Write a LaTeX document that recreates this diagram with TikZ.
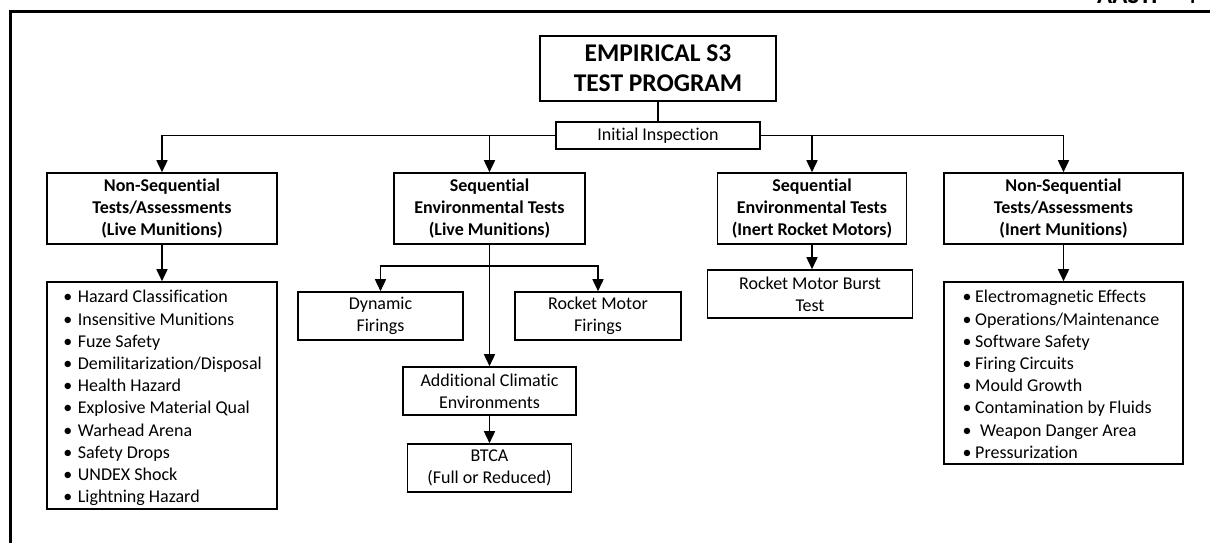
\documentclass[tikz,border=0pt]{standalone}
\usepackage{fontspec}
\setmainfont{Carlito}[Ligatures=NoCommon]
\usetikzlibrary{arrows.meta}
% bullet hung to the left of the item text, #1 = gap before the text
\newcommand\bul[1]{\llap{\textbullet\hspace{#1}}}
\begin{document}
\begin{tikzpicture}[x=1pt,y=-1pt,
  box/.style={draw, line width=1.6pt, fill=white, rectangle, inner sep=0pt,
    align=center, font=\fontsize{18}{21.7}\selectfont},
  head/.style={box, font=\bfseries\fontsize{18}{21.7}\selectfont},
  link/.style={line width=1.6pt},
  arr/.style={link, -{Triangle[length=12pt,width=11pt]}},
  items/.style={anchor=north west, inner sep=0pt, align=left,
    font=\fontsize{18}{22.2}\selectfont}]
\useasboundingbox (0,0) rectangle (1210,542);

% page frame and running header, both cut by the page edge
\begin{scope}
  \clip (0,0) rectangle (1210,542);
  \draw[line width=2.8pt] (10.7,600) -- (10.7,11.2) -- (1260,11.2);
  \node[anchor=base west, inner sep=0pt, font=\bfseries\fontsize{25}{30}\selectfont]
    (runhead) at (1097,3.5) {AASTP - 4};
\end{scope}

% top of the tree
\node[box, minimum width=236, minimum height=65,
  font=\bfseries\fontsize{25.5}{30}\selectfont] (title) at (658,68.5)
  {EMPIRICAL S3\\TEST PROGRAM};
\node[box, minimum width=204, minimum height=27] (ii) at (658,135.5) {Initial Inspection};

% second level
\node[head, minimum width=230, minimum height=71] (h1) at (162,208.5)
  {Non-Sequential\\Tests/Assessments\\(Live Munitions)};
\node[head, minimum width=191, minimum height=71] (h2) at (489.5,208.5)
  {Sequential\\Environmental Tests\\(Live Munitions)};
\node[head, minimum width=189, minimum height=71] (h3) at (812,208.5)
  {Sequential\\Environmental Tests\\(Inert Rocket Motors)};
\node[head, minimum width=239, minimum height=71] (h4) at (1063.5,208.5)
  {Non-Sequential\\Tests/Assessments\\(Inert Munitions)};

% live munitions: list of assessments
\node[box, minimum width=230, minimum height=227] (l1) at (162,395.5) {};
\node[items] (l1t) at (77.7,287.7)
  {\rule{0pt}{15pt}\bul{5.5pt}Hazard Classification\\
   \bul{5.5pt}Insensitive Munitions\\
   \bul{5.5pt}Fuze Safety\\
   \bul{5.5pt}Demilitarization/Disposal\\
   \bul{5.5pt}Health Hazard\\
   \bul{5.5pt}Explosive Material Qual\\
   \bul{5.5pt}Warhead Arena\\
   \bul{5.5pt}Safety Drops\\
   \bul{5.5pt}UNDEX Shock\\
   \bul{5.5pt}Lightning Hazard};

% sequential environmental tests, live munitions
\node[box, minimum width=165, minimum height=48] (dyn) at (380.5,316) {Dynamic\\Firings};
\node[box, minimum width=166, minimum height=48] (rmf) at (598,316) {Rocket Motor\\Firings};
\node[box, minimum width=173, minimum height=48] (add) at (489.5,391)
  {Additional Climatic\\Environments};
\node[box, minimum width=164, minimum height=48] (btca) at (489.5,468)
  {BTCA\\(Full or Reduced)};

% inert rocket motors
\node[box, minimum width=205, minimum height=48] (burst) at (810,294)
  {Rocket Motor Burst\\Test};

% inert munitions: list of assessments
\node[box, minimum width=239, minimum height=182] (l4) at (1063.5,373) {};
\node[items] (l4t) at (975,287.7)
  {\rule{0pt}{15pt}\bul{3.5pt}Electromagnetic Effects\\
   \bul{3.5pt}Operations/Maintenance\\
   \bul{3.5pt}Software Safety\\
   \bul{3.5pt}Firing Circuits\\
   \bul{3.5pt}Mould Growth\\
   \bul{3.5pt}Contamination by Fluids\\
   \bul{3.5pt}\hspace{5pt}Weapon Danger Area\\
   \bul{3.5pt}Pressurization};

% connectors
\draw[link] (title.south) -- (ii.north);
\draw[arr] (ii.west) -| (h1.north);
\draw[arr] (ii.west) -| (h2.north);
\draw[arr] (ii.east) -| (h3.north);
\draw[arr] (ii.east) -| (h4.north);
\draw[arr] (h1.south) -- (l1.north);
\draw[arr] (h2.south) -- (add.north);
\coordinate (fork) at (489.5,266);
\draw[arr] (fork) -| (dyn.north);
\draw[arr] (fork) -| (rmf.north);
\draw[arr] (add.south) -- (btca.north);
\draw[arr] (h3.south) -- (h3.south |- burst.north);
\draw[arr] (h4.south) -- (l4.north);
\end{tikzpicture}
\end{document}
